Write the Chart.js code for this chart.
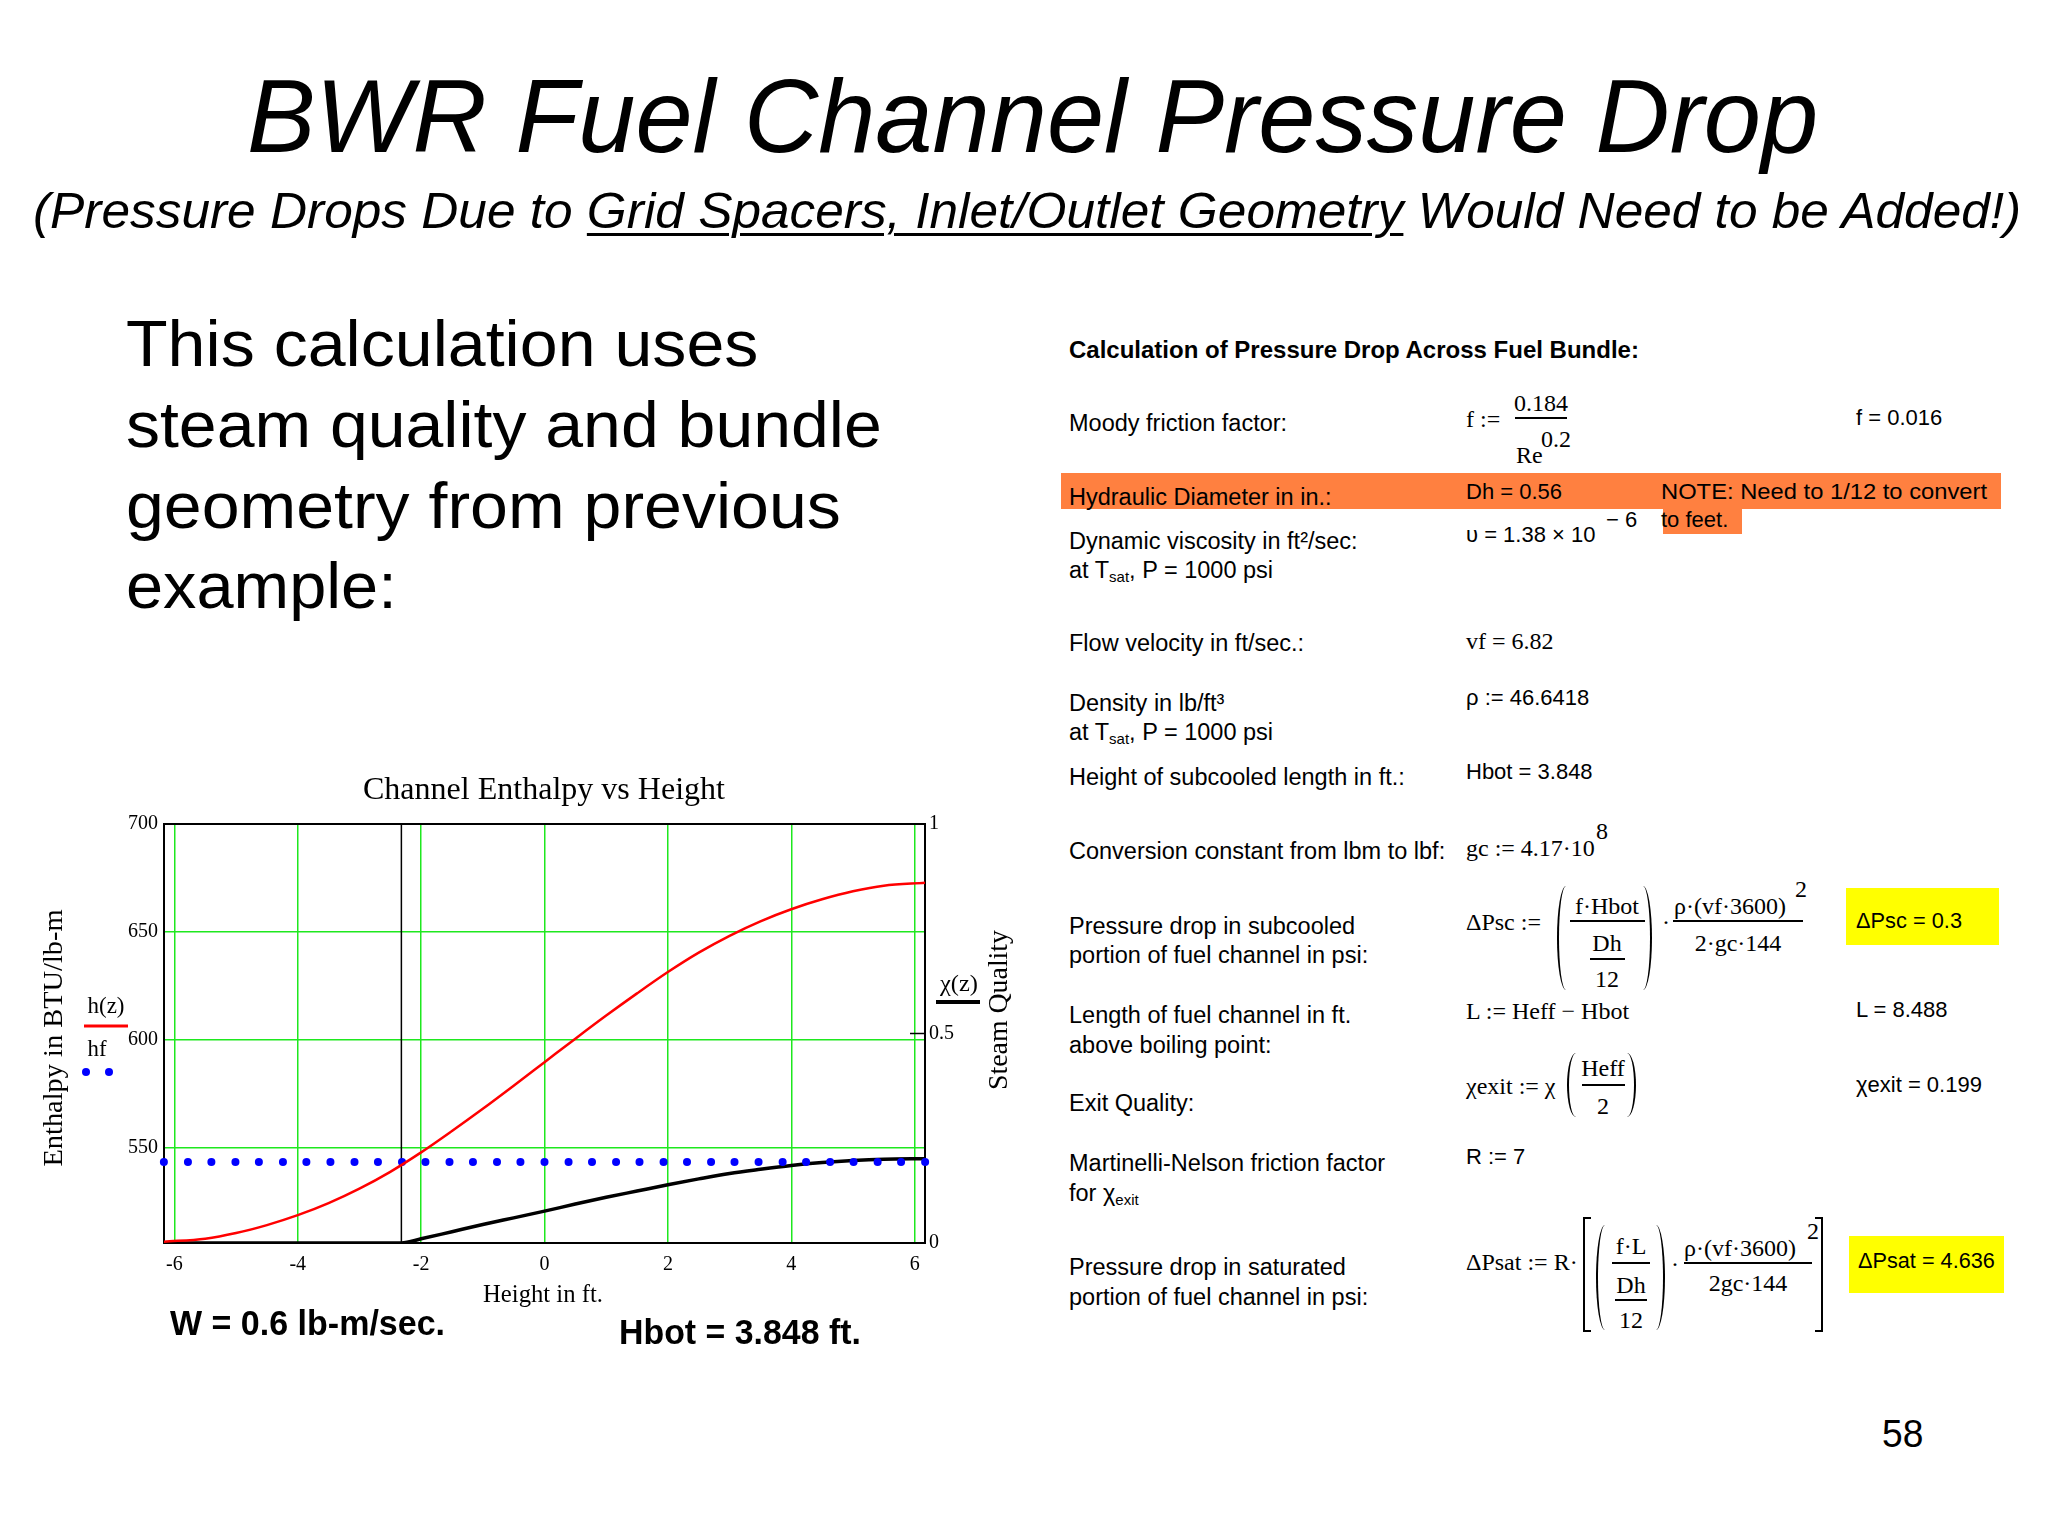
<!DOCTYPE html>
<html>
<head>
<meta charset="utf-8">
<script src="https://cdn.jsdelivr.net/npm/chart.js@4.4.1/dist/chart.umd.min.js"></script>
<style>
html, body { margin: 0; padding: 0; background: #fff; }
#page { position: relative; width: 2048px; height: 1536px; overflow: hidden;
        font-family: "Liberation Sans", Arial, sans-serif; color: #000; }
.t { position: absolute; white-space: nowrap; line-height: 1; transform-origin: 0 0; }
.l { font-size: 23.5px; }
.s { font-size: 22px; }
.b { font-size: 24px; font-weight: bold; }
.m { font-family: "Liberation Serif", "Times New Roman", serif; font-size: 24px; }
.t sub { font-size: 15px; vertical-align: -4px; }
.box { position: absolute; }
.bar { position: absolute; height: 2px; background: #000; }
.pl { position: absolute; border-left: 2px solid #000; border-radius: 100% 0 0 100% / 50% 0 0 50%; width: 7px; }
.pr { position: absolute; border-right: 2px solid #000; border-radius: 0 100% 100% 0 / 0 50% 50% 0; width: 7px; }
.bl { position: absolute; border: 2px solid #000; border-right: none; width: 6px; }
.br { position: absolute; border: 2px solid #000; border-left: none; width: 6px; }
#chartBox { position: absolute; left: 0; top: 760px; width: 1040px; height: 600px; }
</style>
</head>
<body>
<div id="page">
  <div class="t" data-w="1571" style="left:247px;top:65px;font-size:103px;font-style:italic;">BWR Fuel Channel Pressure Drop</div>
  <div class="t" data-w="1988" style="left:33px;top:186px;font-size:50px;font-style:italic;">(Pressure Drops Due to <u style="text-decoration-thickness:3px;text-underline-offset:5px;">Grid Spacers, Inlet/Outlet Geometry</u> Would Need to be Added!)</div>

  <div class="t" data-w="632" style="left:126px;top:311px;font-size:65px;">This calculation uses</div>
  <div class="t" data-w="756" style="left:126px;top:392px;font-size:65px;">steam quality and bundle</div>
  <div class="t" data-w="715" style="left:126px;top:473px;font-size:65px;">geometry from previous</div>
  <div class="t" data-w="271" style="left:126px;top:553px;font-size:65px;">example:</div>

  <div id="chartBox"><canvas id="chart"></canvas></div>

  <div class="t" data-w="275" style="left:170px;top:1305px;font-size:35px;font-weight:bold;">W = 0.6 lb-m/sec.</div>
  <div class="t" data-w="242" style="left:619px;top:1314px;font-size:35px;font-weight:bold;">Hbot = 3.848 ft.</div>

  <div class="t" data-w="41" style="left:1882px;top:1414px;font-size:39px;">58</div>

  <div id="panel"></div>
</div>

<script>
// channel height positions (ft) and enthalpy h(z)
const hZ = [-6.17, -5.5, -5, -4.5, -4, -3.5, -3, -2.5, -2, -1.5, -1, -0.5, 0,
            0.5, 1, 1.5, 2, 2.5, 3, 3.5, 4, 4.5, 5, 5.5, 6.17];
const hVals = [506.4, 507.8, 510.4, 514.1, 518.7, 524.3, 531.0, 538.8, 547.8, 557.7, 568.0, 578.7, 589.6,
               600.5, 611.2, 621.5, 631.4, 640.4, 648.2, 654.9, 660.5, 665.1, 668.8, 671.4, 672.8];

// saturated liquid enthalpy hf, sampled at these heights (dotted trace)
const hf = 543.3;
const hfZ = [-6.17, -5.78, -5.40, -5.01, -4.63, -4.24, -3.86, -3.47, -3.08, -2.70, -2.31,
             -1.93, -1.54, -1.16, -0.77, -0.39, 0, 0.39, 0.77, 1.16, 1.54, 1.93,
             2.31, 2.70, 3.08, 3.47, 3.86, 4.24, 4.63, 5.01, 5.40, 5.78, 6.17];

// steam quality x(z), right axis
const qZ = [-6.17, -2.32, -2, -1.5, -1, -0.5, 0, 0.5, 1, 1.5, 2, 2.5, 3, 3.5, 4, 4.5, 5, 5.5, 6.17];
const qVals = [0, 0, 0.01, 0.027, 0.044, 0.06, 0.076, 0.093, 0.109, 0.124, 0.139, 0.153, 0.166,
               0.176, 0.185, 0.192, 0.197, 0.2, 0.201];

// boiling boundary (Hbot - Heff/2)
const boilZ = -2.32;

// axes
const xRange = [-6.168, 6.168];
const xTicks = [-6, -4, -2, 0, 2, 4, 6];
const hRange = [505.8, 700];
const hTicks = [550, 600, 650, 700];
const qTicks = [0, 0.5, 1];

// ---- right hand Mathcad worksheet (layout only) ----
const panelRects = [
  ['#ff8040', 1061, 473, 2001, 509], ['#ff8040', 1663, 509, 1742, 534],
  ['#ffff00', 1846, 888, 1999, 945], ['#ffff00', 1849, 1236, 2004, 1293]
];
const panelBars = [[1515, 1567, 418], [1570, 1645, 921], [1590, 1625, 959], [1673, 1803, 921],
                   [1582, 1625, 1085], [1612, 1650, 1263], [1615, 1647, 1300], [1684, 1812, 1263]];
const panelParens = [[1557, 1652, 886, 990], [1567, 1636, 1053, 1117], [1596, 1665, 1225, 1330]];
const panelBrackets = [[1583, 1823, 1217, 1332]];
const panelText = [
  [1069, 349, 'Calculation of Pressure Drop Across Fuel Bundle:', 'b'],
  [1069, 423, 'Moody friction factor:', 'l'],
  [1069, 497, 'Hydraulic Diameter in in.:', 'l'],
  [1069, 541, 'Dynamic viscosity in ft²/sec:', 'l'],
  [1069, 570, 'at T<sub>sat</sub>, P = 1000 psi', 'l'],
  [1069, 643, 'Flow velocity in ft/sec.:', 'l'],
  [1069, 703, 'Density in lb/ft³', 'l'],
  [1069, 732, 'at T<sub>sat</sub>, P = 1000 psi', 'l'],
  [1069, 777, 'Height of subcooled length in ft.:', 'l'],
  [1069, 851, 'Conversion constant from lbm to lbf:', 'l'],
  [1069, 926, 'Pressure drop in subcooled', 'l'],
  [1069, 955, 'portion of fuel channel in psi:', 'l'],
  [1069, 1015, 'Length of fuel channel in ft.', 'l'],
  [1069, 1045, 'above boiling point:', 'l'],
  [1069, 1103, 'Exit Quality:', 'l'],
  [1069, 1163, 'Martinelli-Nelson friction factor', 'l'],
  [1069, 1193, 'for χ<sub>exit</sub>', 'l'],
  [1069, 1267, 'Pressure drop in saturated', 'l'],
  [1069, 1297, 'portion of fuel channel in psi:', 'l'],

  [1466, 418, 'f :=', 'm'],
  [1541, 402, '0.184', 'm', 'c'],
  [1516, 454, 'Re', 'm'],
  [1541, 438, '0.2', 'm'],
  [1856, 418, 'f = 0.016', 's'],
  [1466, 492, 'Dh = 0.56', 's'],
  [1661, 492, 'NOTE: Need to 1/12 to convert', 's', '', 326],
  [1661, 520, 'to feet.', 's'],
  [1466, 535, 'υ = 1.38 × 10', 's'],
  [1606, 520, '− 6', 's'],
  [1466, 640, 'vf = 6.82', 'm'],
  [1466, 698, 'ρ := 46.6418', 's'],
  [1466, 772, 'Hbot = 3.848', 's'],
  [1466, 847, 'gc := 4.17·10', 'm'],
  [1596, 830, '8', 'm'],
  [1466, 921, 'ΔPsc :=', 'm'],
  [1607, 905, 'f·Hbot', 'm', 'c'],
  [1607, 942, 'Dh', 'm', 'c'],
  [1607, 978, '12', 'm', 'c'],
  [1662, 921, '·', 'm'],
  [1674, 905, 'ρ·(vf·3600)', 'm'],
  [1795, 888, '2', 'm'],
  [1738, 942, '2·gc·144', 'm', 'c'],
  [1856, 921, 'ΔPsc = 0.3', 's', '', 106],
  [1466, 1010, 'L := Heff − Hbot', 'm'],
  [1856, 1010, 'L = 8.488', 's'],
  [1466, 1085, 'χexit := χ', 'm'],
  [1603, 1067, 'Heff', 'm', 'c'],
  [1603, 1105, '2', 'm', 'c'],
  [1856, 1085, 'χexit = 0.199', 's'],
  [1466, 1157, 'R := 7', 's'],
  [1466, 1261, 'ΔPsat := R·', 'm'],
  [1631, 1245, 'f·L', 'm', 'c'],
  [1631, 1284, 'Dh', 'm', 'c'],
  [1631, 1319, '12', 'm', 'c'],
  [1671, 1263, '·', 'm'],
  [1684, 1247, 'ρ·(vf·3600)', 'm'],
  [1807, 1230, '2', 'm'],
  [1748, 1282, '2gc·144', 'm', 'c'],
  [1858, 1261, 'ΔPsat = 4.636', 's', '', 137]
];

function buildPanel() {
  const panel = document.getElementById('panel');
  let html = '';
  panelRects.forEach(([c, x1, y1, x2, y2]) => {
    html += `<div class="box" style="background:${c};left:${x1}px;top:${y1}px;width:${x2 - x1}px;height:${y2 - y1}px"></div>`;
  });
  panelBars.forEach(([x1, x2, y]) => {
    html += `<div class="bar" style="left:${x1}px;top:${y - 1}px;width:${x2 - x1}px"></div>`;
  });
  panelParens.forEach(([x1, x2, y1, y2]) => {
    html += `<div class="pl" style="left:${x1}px;top:${y1}px;height:${y2 - y1}px"></div>`;
    html += `<div class="pr" style="left:${x2 - 9}px;top:${y1}px;height:${y2 - y1}px"></div>`;
  });
  panelBrackets.forEach(([x1, x2, y1, y2]) => {
    html += `<div class="bl" style="left:${x1}px;top:${y1}px;height:${y2 - y1 - 4}px"></div>`;
    html += `<div class="br" style="left:${x2 - 8}px;top:${y1}px;height:${y2 - y1 - 4}px"></div>`;
  });
  panelText.forEach(([x, y, txt, cls, al, w]) => {
    const tr = al === 'c' ? 'transform:translateX(-50%);' : '';
    const dw = w ? ` data-w="${w}"` : '';
    html += `<div class="t ${cls}"${dw} style="left:${x}px;top:${y - 11}px;${tr}">${txt}</div>`;
  });
  panel.innerHTML = html;
}
buildPanel();

// squeeze html text into the width it takes on the slide
function fitHtml() {
  document.querySelectorAll('[data-w]').forEach(el => {
    el.style.transform = `scaleX(${+el.dataset.w / el.offsetWidth})`;
  });
}

// draw text centred at (cx, cy), stretched to width w
function fitText(ctx, text, cx, cy, w, font, rot) {
  ctx.save();
  ctx.font = font;
  ctx.translate(cx, cy);
  if (rot) ctx.rotate(rot);
  ctx.scale(w / ctx.measureText(text).width, 1);
  ctx.textAlign = 'center';
  ctx.textBaseline = 'middle';
  ctx.fillStyle = '#000';
  ctx.fillText(text, 0, 0);
  ctx.restore();
}

const serif = '"Liberation Serif", "Times New Roman", serif';

const mathcadDecor = {
  id: 'mathcadDecor',
  beforeDatasetsDraw(chart) {
    const { ctx, chartArea: a } = chart;
    ctx.save();
    ctx.strokeStyle = '#000';
    ctx.lineWidth = 2;
    ctx.strokeRect(a.left, a.top, a.right - a.left, a.bottom - a.top);
    const yMid = chart.scales.y2.getPixelForValue(0.5);
    ctx.lineWidth = 1.5;
    ctx.beginPath();
    ctx.moveTo(a.right - 15, yMid);
    ctx.lineTo(a.right, yMid);
    ctx.stroke();
    ctx.restore();
  },
  afterDraw(chart) {
    const { ctx, chartArea: a } = chart;
    const cx = (a.left + a.right) / 2;
    fitText(ctx, 'Channel Enthalpy vs Height', cx - 0.5, a.top - 33, 362, `32px ${serif}`);
    fitText(ctx, 'Height in ft.', cx - 1.5, a.bottom + 52, 120, `26px ${serif}`);
    fitText(ctx, 'Enthalpy in BTU/lb-m', a.left - 109, 278, 257, `28px ${serif}`, -Math.PI / 2);
    fitText(ctx, 'Steam Quality', a.right + 75, 250, 160, `28px ${serif}`, -Math.PI / 2);

    // legend samples beside the axis titles
    fitText(ctx, 'h(z)', a.left - 58, 247, 37, `24px ${serif}`);
    fitText(ctx, 'hf', a.left - 67, 290, 19, `24px ${serif}`);
    fitText(ctx, 'χ(z)', a.right + 34, 225, 38, `24px ${serif}`);
    ctx.save();
    ctx.lineCap = 'butt';
    ctx.strokeStyle = '#ff0000';
    ctx.lineWidth = 3;
    ctx.beginPath(); ctx.moveTo(a.left - 80, 266); ctx.lineTo(a.left - 36, 266); ctx.stroke();
    ctx.strokeStyle = '#000';
    ctx.lineWidth = 4;
    ctx.beginPath(); ctx.moveTo(a.right + 11, 242); ctx.lineTo(a.right + 55, 242); ctx.stroke();
    ctx.fillStyle = '#0000ff';
    [a.left - 78, a.left - 55].forEach(x => {
      ctx.beginPath(); ctx.arc(x, 312, 4, 0, Math.PI * 2); ctx.fill();
    });
    ctx.restore();
  }
};

const tickFont = { family: serif, size: 20 };
const green = '#1ee81e';

function start() {
  fitHtml();
  new Chart(document.getElementById('chart'), {
    type: 'line',
    data: {
      datasets: [
        {
          label: 'h(z)',
          data: hZ.map((z, i) => ({ x: z, y: hVals[i] })),
          yAxisID: 'y',
          borderColor: '#ff0000',
          borderWidth: 2.5,
          pointRadius: 0,
          cubicInterpolationMode: 'monotone'
        },
        {
          label: 'hf',
          data: hfZ.map(z => ({ x: z, y: hf })),
          yAxisID: 'y',
          showLine: false,
          pointRadius: 4,
          pointBorderWidth: 0,
          pointBackgroundColor: '#0000ff',
          clip: false
        },
        {
          label: 'χ(z)',
          data: qZ.map((z, i) => ({ x: z, y: qVals[i] })),
          yAxisID: 'y2',
          borderColor: '#000',
          borderWidth: 3.5,
          pointRadius: 0,
          cubicInterpolationMode: 'monotone'
        },
        {
          label: 'boiling boundary',
          data: hRange.map(v => ({ x: boilZ, y: v })),
          yAxisID: 'y',
          borderColor: '#000',
          borderWidth: 1.5,
          pointRadius: 0
        }
      ]
    },
    options: {
      responsive: true,
      maintainAspectRatio: false,
      animation: false,
      events: [],
      layout: { padding: { top: 64, left: 0, right: 0, bottom: 0 } },
      plugins: { legend: { display: false }, tooltip: { enabled: false } },
      scales: {
        x: {
          type: 'linear',
          min: xRange[0], max: xRange[1],
          afterBuildTicks: s => { s.ticks = xTicks.map(v => ({ value: v })); },
          afterFit: s => { s.height = 117; },
          ticks: { font: tickFont, color: '#000', padding: 10, maxRotation: 0, callback: v => String(v) },
          grid: { color: green, lineWidth: 1.5, drawTicks: false },
          border: { display: false }
        },
        y: {
          position: 'left',
          min: hRange[0], max: hRange[1],
          afterBuildTicks: s => { s.ticks = hTicks.map(v => ({ value: v })); },
          afterFit: s => { s.width = 164; },
          ticks: { font: tickFont, color: '#000', padding: 6, callback: v => String(v) },
          grid: { color: green, lineWidth: 1.5, drawTicks: false },
          border: { display: false }
        },
        y2: {
          position: 'right',
          min: 0, max: 1,
          afterBuildTicks: s => { s.ticks = qTicks.map(v => ({ value: v })); },
          afterFit: s => { s.width = 115; },
          ticks: { font: tickFont, color: '#000', padding: 4, callback: v => String(v) },
          grid: { display: false, drawTicks: false },
          border: { display: false }
        }
      }
    },
    plugins: [mathcadDecor]
  });
}

if (document.fonts && document.fonts.ready) document.fonts.ready.then(start);
else start();
</script>
</body>
</html>
